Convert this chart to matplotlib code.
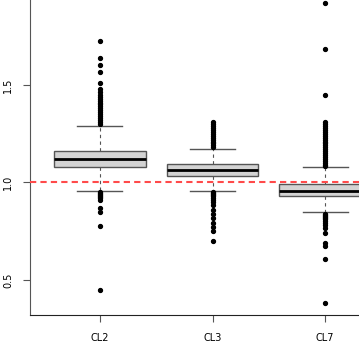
import matplotlib
matplotlib.use('Agg')
import matplotlib.pyplot as plt

# 类别
labels = ['CL2', 'CL3', 'CL7']

# 箱线图统计量
q1 = [1.081, 1.035, 0.932]
med = [1.120, 1.064, 0.958]
q3 = [1.163, 1.093, 0.991]
whislo = [0.956, 0.956, 0.847]
whishi = [1.290, 1.172, 1.078]

# 离群点
out_cl2 = [1.30, 1.31, 1.32, 1.33, 1.34, 1.35, 1.36, 1.37, 1.38, 1.39, 1.40,
           1.41, 1.42, 1.43, 1.44, 1.45, 1.465, 1.48, 1.51, 1.565, 1.60, 1.64,
           1.727,
           0.950, 0.945, 0.94, 0.935, 0.93, 0.925, 0.92, 0.91, 0.868, 0.847,
           0.777, 0.449]
out_cl3 = [1.18, 1.19, 1.20, 1.21, 1.22, 1.23, 1.24, 1.25, 1.26, 1.27, 1.28,
           1.29, 1.30, 1.312,
           0.950, 0.945, 0.94, 0.935, 0.93, 0.92, 0.91, 0.90, 0.885, 0.859,
           0.837, 0.816, 0.794, 0.770, 0.751, 0.70]
out_cl7 = [1.085, 1.09, 1.10, 1.11, 1.12, 1.13, 1.14, 1.15, 1.16, 1.17, 1.18,
           1.19, 1.20, 1.21, 1.22, 1.23, 1.24, 1.25, 1.26, 1.27, 1.28, 1.29,
           1.30, 1.312, 1.447, 1.683, 1.922,
           0.84, 0.835, 0.83, 0.825, 0.82, 0.81, 0.80, 0.79, 0.78, 0.765,
           0.743, 0.688, 0.674, 0.606, 0.381]
outliers = [out_cl2, out_cl3, out_cl7]

stats = []
for i in range(len(labels)):
    stats.append({'label': labels[i], 'q1': q1[i], 'med': med[i], 'q3': q3[i],
                  'whislo': whislo[i], 'whishi': whishi[i], 'fliers': outliers[i]})

fig = plt.figure(figsize=(3.59, 3.59), dpi=100)
ax = fig.add_axes([30 / 359, 44 / 359, 329 / 359, 315 / 359])

ax.bxp(stats, positions=[1, 2, 3], widths=0.81, capwidths=0.4, patch_artist=True,
       boxprops=dict(facecolor='#d3d3d3', edgecolor='#555555', linewidth=1),
       medianprops=dict(color='black', linewidth=2),
       whiskerprops=dict(color='#555555', linestyle=(0, (3, 3)), linewidth=0.8),
       capprops=dict(color='#555555', linewidth=1),
       flierprops=dict(marker='o', markerfacecolor='black', markeredgecolor='black',
                       markersize=2.8, linestyle='none'))

# 红色参考线
ax.axhline(1.0, color='#ff4a4a', linestyle=(0, (3, 2)), linewidth=1.5, zorder=5)

ax.set_xlim(0.378, 3.302)
ax.set_ylim(0.32, 1.936)
ax.set_yticks([0.5, 1.0, 1.5])
ax.set_yticklabels(['0.5', '1.0', '1.5'], rotation=90, va='center', fontsize=7)
ax.set_xticks([1, 2, 3])
ax.set_xticklabels(labels, fontsize=7)
ax.tick_params(length=5, width=0.8, color='#555555')
ax.tick_params(axis='x', pad=8)
ax.tick_params(axis='y', pad=7)
ax.spines['top'].set_visible(False)
ax.spines['right'].set_visible(False)
ax.spines['left'].set_color('#555555')
ax.spines['bottom'].set_color('#222222')

fig.savefig('out.png', dpi=100)
